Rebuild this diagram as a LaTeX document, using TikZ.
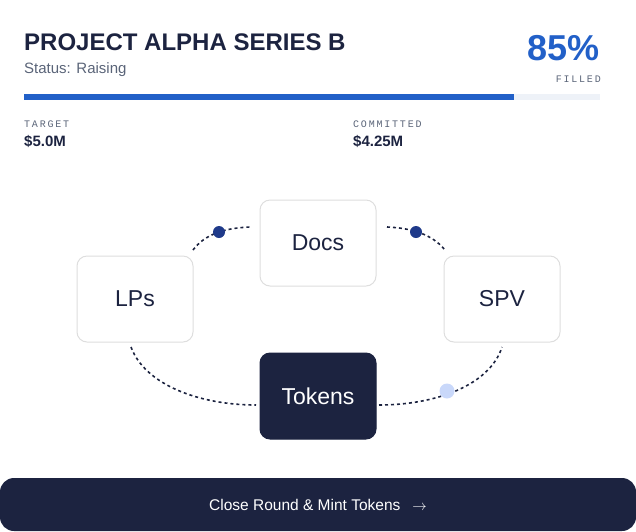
\documentclass[tikz,border=0pt]{standalone}
\usepackage{fontspec}
\setmainfont{Liberation Sans}
\newfontfamily\monofont[LetterSpace=18]{Liberation Mono}
\usetikzlibrary{positioning}
\definecolor{ink}{HTML}{1C2340}
\definecolor{accent}{HTML}{2260C8}
\definecolor{muted}{HTML}{5A6478}
\definecolor{track}{HTML}{EEF2F8}
\definecolor{edgegray}{HTML}{DEDEDE}
\definecolor{dotdark}{HTML}{1F3A8A}
\definecolor{dotlight}{HTML}{C9D8FA}
\tikzset{
  box/.style={draw=edgegray,line width=1pt,fill=white,rounded corners=10pt,
    minimum width=116pt,minimum height=86pt,text=ink,font=\fontsize{23}{23}\selectfont},
  active/.style={box,draw=ink,fill=ink,text=white},
  link/.style={ink,line width=1.6pt,dash pattern=on 3pt off 3pt},
  tag/.style={font=\monofont\fontsize{10}{10}\selectfont,text=muted,inner sep=0pt},
  amount/.style={font=\bfseries\fontsize{15}{15}\selectfont,text=ink,inner sep=0pt}
}
\begin{document}
\begin{tikzpicture}[x=1pt,y=-1pt]
  \useasboundingbox (0,0) rectangle (636,531);
  % header
  \node[anchor=base west,inner sep=0pt,text=ink,font=\bfseries\fontsize{24}{24}\selectfont] (title) at (24,50) {PROJECT ALPHA SERIES B};
  \node[anchor=base west,inner sep=0pt,text=muted,font=\fontsize{15}{15}\selectfont] (status) at (24,73) {Status: Raising};
  \node[anchor=base east,inner sep=0pt,text=accent,font=\bfseries\fontsize{36}{36}\selectfont] (pct) at (600,60) {85\%};
  \node[tag,anchor=base east] (filled) at (601,82) {FILLED};
  % progress bar
  \fill[track] (24,94) rectangle (600,100);
  \fill[accent] (24,94) rectangle (514,100);
  \node[tag,anchor=base west] (target) at (24,127) {TARGET};
  \node[amount,anchor=base west] (targetval) at (24,146) {\$5.0M};
  \node[tag,anchor=base west] (committed) at (353,127) {COMMITTED};
  \node[amount,anchor=base west] (committedval) at (353,146) {\$4.25M};
  % cycle
  \node[box] (docs) at (318,243) {Docs};
  \node[box] (lps) at (135,299) {LPs};
  \node[box] (spv) at (502,299) {SPV};
  \node[active] (tokens) at (318,396) {Tokens};
  \coordinate (a1) at (193,250);
  \coordinate (a2) at (250,227);
  \coordinate (b1) at (387,227);
  \coordinate (b2) at (445,250);
  \coordinate (c1) at (131,347);
  \coordinate (c2) at (256,405);
  \coordinate (d1) at (379,405);
  \coordinate (d2) at (502,347);
  \draw[link] (a1) .. controls (205,234) and (225,228) .. (a2);
  \draw[link] (b1) .. controls (411,228) and (432,234) .. (b2);
  \draw[link] (c1) .. controls (145,385) and (200,405) .. (c2);
  \draw[link] (d1) .. controls (436,405) and (490,385) .. (d2);
  \fill[dotdark] (219,232) circle (6pt);
  \fill[dotdark] (416,232) circle (6pt);
  \fill[dotlight] (447,391) circle (7.5pt);
  % button
  \node[fill=ink,rounded corners=14pt,minimum width=636pt,minimum height=53pt,inner sep=0pt,
    text=white,font=\fontsize{15.5}{15.5}\selectfont] (close) at (318,504.5) {Close Round \& Mint Tokens\hspace{12pt}$\rightarrow$};
\end{tikzpicture}
\end{document}
